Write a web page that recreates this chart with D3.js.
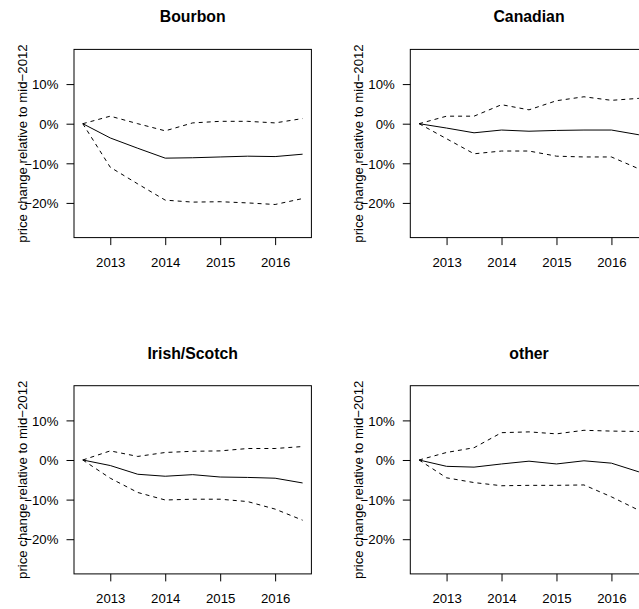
<!DOCTYPE html>
<html>
<head>
<meta charset="utf-8">
<script src="https://cdn.jsdelivr.net/npm/d3@7"></script>
<style>
  html, body { margin: 0; padding: 0; background: #fff; }
  svg { display: block; }
  text { font-family: "Liberation Sans", Arial, Helvetica, sans-serif; fill: #000; }
</style>
</head>
<body>
<svg id="chart" width="639" height="609"></svg>
<script>
// Half-yearly observation times (mid-2012 baseline through mid-2016)
const times = [2012.5, 2013, 2013.5, 2014, 2014.5, 2015, 2015.5, 2016, 2016.5];

// Panel titles, in reading order
const categories = ["Bourbon", "Canadian", "Irish/Scotch", "other"];

// Median price change and the upper / lower bands for each category (fractions)
const bourbonMid   = [0, -0.036, -0.062, -0.087, -0.086, -0.084, -0.082, -0.083, -0.077];
const bourbonHigh  = [0,  0.019,  0.000, -0.018,  0.002,  0.006,  0.006,  0.002,  0.013];
const bourbonLow   = [0, -0.110, -0.152, -0.193, -0.198, -0.197, -0.200, -0.204, -0.189];

const canadianMid  = [0, -0.011, -0.023, -0.016, -0.019, -0.017, -0.016, -0.016, -0.028];
const canadianHigh = [0,  0.019,  0.019,  0.048,  0.035,  0.058,  0.068,  0.059,  0.064];
const canadianLow  = [0, -0.038, -0.076, -0.069, -0.069, -0.082, -0.084, -0.084, -0.114];

const irishMid     = [0, -0.014, -0.036, -0.041, -0.037, -0.043, -0.044, -0.046, -0.058];
const irishHigh    = [0,  0.023,  0.009,  0.019,  0.022,  0.023,  0.029,  0.029,  0.034];
const irishLow     = [0, -0.046, -0.082, -0.101, -0.099, -0.099, -0.105, -0.124, -0.152];

const otherMid     = [0, -0.016, -0.018, -0.010, -0.003, -0.010, -0.002, -0.008, -0.030];
const otherHigh    = [0,  0.019,  0.031,  0.069,  0.071,  0.066,  0.075,  0.073,  0.072];
const otherLow     = [0, -0.045, -0.057, -0.065, -0.064, -0.064, -0.063, -0.093, -0.127];

// Axis ticks
const yearTicks = [2013, 2014, 2015, 2016];
const pctTicks = [-0.2, -0.1, 0, 0.1];
const pctLabels = ["\u221220%", "\u221210%", "0%", "10%"];

const panelSeries = [
  [bourbonMid, bourbonHigh, bourbonLow],
  [canadianMid, canadianHigh, canadianLow],
  [irishMid, irishHigh, irishLow],
  [otherMid, otherHigh, otherLow]
];

const yLabel = "price change relative to mid\u22122012";

// Layout: 2 x 2 grid of square cells; the right column runs past the page edge
const cell = 336.3;
const margin = { left: 74, top: 49.4 };
const plotW = 237.4, plotH = 188.2;
const tickLen = 7.5;
const fs = 13.2;

// Axis ranges padded by 4% on each side of the data range
const xLo = 2012.5, xHi = 2016.5, xPad = (xHi - xLo) * 0.04;
const yLo = -0.27, yHi = 0.17, yPad = (yHi - yLo) * 0.04;

const x = d3.scaleLinear().domain([xLo - xPad, xHi + xPad]).range([0, plotW]);
const y = d3.scaleLinear().domain([yLo - yPad, yHi + yPad]).range([plotH, 0]);

const line = d3.line()
  .x((d, i) => x(times[i]))
  .y(d => y(d));

const svg = d3.select("#chart");

categories.forEach((name, k) => {
  const col = k % 2, row = Math.floor(k / 2);
  const g = svg.append("g")
    .attr("transform", `translate(${col * cell + margin.left},${row * cell + margin.top})`);

  // Title
  g.append("text")
    .attr("x", plotW / 2)
    .attr("y", -27)
    .attr("text-anchor", "middle")
    .style("font-size", "15.8px")
    .style("font-weight", "bold")
    .text(name);

  // Y axis
  const yAxis = d3.axisLeft(y)
    .tickValues(pctTicks)
    .tickFormat((d, i) => pctLabels[i])
    .tickSize(tickLen)
    .tickSizeOuter(0)
    .tickPadding(8.1);
  const ya = g.append("g").call(yAxis);
  ya.select(".domain").remove();
  ya.selectAll("line").attr("stroke", "#000");
  ya.selectAll("text")
    .attr("dy", "0.36em")
    .style("font-size", fs + "px")
    .style("font-family", "'Liberation Sans', Arial, Helvetica, sans-serif");

  // X axis
  const xAxis = d3.axisBottom(x)
    .tickValues(yearTicks)
    .tickFormat(d3.format("d"))
    .tickSize(tickLen)
    .tickSizeOuter(0)
    .tickPadding(12.3);
  const xa = g.append("g").attr("transform", `translate(0,${plotH})`).call(xAxis);
  xa.select(".domain").remove();
  xa.selectAll("line").attr("stroke", "#000");
  xa.selectAll("text")
    .style("font-size", fs + "px")
    .style("font-family", "'Liberation Sans', Arial, Helvetica, sans-serif");

  // Y axis title
  g.append("text")
    .attr("transform", `translate(-47,${plotH / 2}) rotate(-90)`)
    .attr("text-anchor", "middle")
    .style("font-size", fs + "px")
    .text(yLabel);

  // Series: median solid, bands dashed
  const [mid, hi, lo] = panelSeries[k];
  [hi, lo].forEach(s => {
    g.append("path")
      .datum(s)
      .attr("d", line)
      .attr("fill", "none")
      .attr("stroke", "#000")
      .attr("stroke-width", 1)
      .attr("stroke-dasharray", "4,4");
  });
  g.append("path")
    .datum(mid)
    .attr("d", line)
    .attr("fill", "none")
    .attr("stroke", "#000")
    .attr("stroke-width", 1);

  // Plot frame
  g.append("rect")
    .attr("x", 0).attr("y", 0)
    .attr("width", plotW).attr("height", plotH)
    .attr("fill", "none")
    .attr("stroke", "#000")
    .attr("stroke-width", 1);
});
</script>
</body>
</html>
